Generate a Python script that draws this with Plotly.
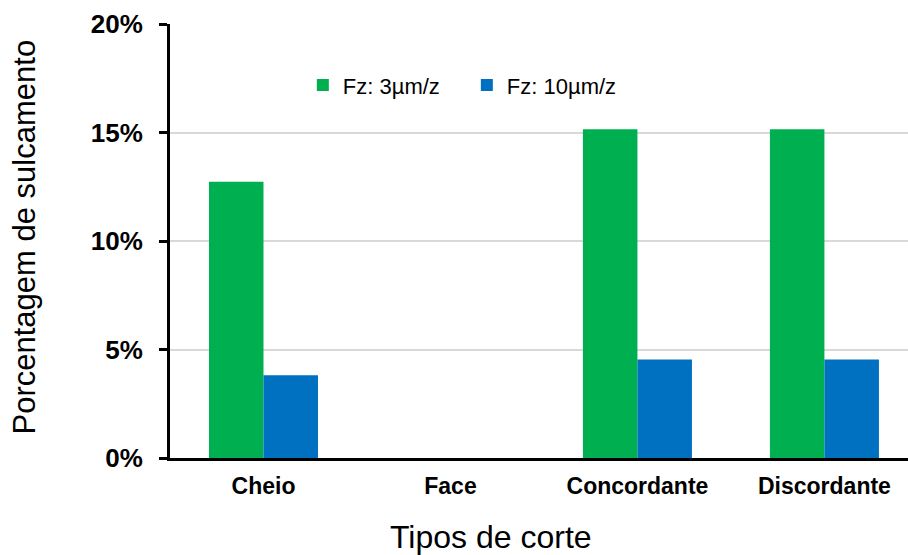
import plotly.graph_objects as go

# Groove percentage by cutting type, for two feed rates
categories = ["Cheio", "Face", "Concordante", "Discordante"]
fz_3 = [0.1273, 0.0, 0.1515, 0.1515]
fz_10 = [0.0381, 0.0, 0.0454, 0.0454]
series_names = ["Fz: 3µm/z", "Fz: 10µm/z"]
y_ticks = [0, 0.05, 0.10, 0.15, 0.20]
y_tick_labels = ["0%", "5%", "10%", "15%", "20%"]

FONT = "Arial, Liberation Sans, sans-serif"
GREEN = "#00B050"
BLUE = "#0070C0"

fig = go.Figure()
fig.add_trace(go.Bar(x=categories, y=fz_3, name=series_names[0],
                     marker=dict(color=GREEN, line=dict(width=0))))
fig.add_trace(go.Bar(x=categories, y=fz_10, name=series_names[1],
                     marker=dict(color=BLUE, line=dict(width=0))))

fig.update_layout(
    width=908, height=555,
    margin=dict(l=170, r=0, t=24, b=97),
    paper_bgcolor="white", plot_bgcolor="white",
    barmode="group", bargap=0.417, bargroupgap=0,
    font=dict(family=FONT, color="black"),
    showlegend=True,
    legend=dict(orientation="h", x=0.180, y=0.859, xanchor="left", yanchor="middle",
                font=dict(size=22, family=FONT, color="black"),
                bgcolor="rgba(0,0,0,0)", itemwidth=30, tracegroupgap=0,
                entrywidth=119, entrywidthmode="pixels"),
    xaxis=dict(
        range=[-0.5, 3.447],
        showline=True, linecolor="black", linewidth=3,
        ticks="", showgrid=False,
        tickfont=dict(size=23, family=FONT, color="black", weight="bold"),
        ticklabelstandoff=5,
    ),
    yaxis=dict(
        range=[0, 0.2],
        tickvals=y_ticks, ticktext=y_tick_labels,
        showline=True, linecolor="black", linewidth=3,
        ticks="outside", ticklen=8, tickwidth=3, tickcolor="black",
        showgrid=True, gridcolor="#D9D9D9", gridwidth=2,
        zeroline=False,
        tickfont=dict(size=26, family=FONT, color="black", weight="bold"),
        ticklabelstandoff=11,
    ),
    annotations=[
        dict(text="Porcentagem de sulcamento", xref="paper", yref="paper",
             x=-0.1965, y=0.5104, xanchor="center", yanchor="middle",
             textangle=-90, showarrow=False,
             font=dict(size=31, family=FONT, color="black")),
        dict(text="Tipos de corte", xref="paper", yref="paper",
             x=0.4356, y=-0.182, xanchor="center", yanchor="middle",
             showarrow=False,
             font=dict(size=32, family=FONT, color="black")),
    ],
)

fig.write_html("out.html")
